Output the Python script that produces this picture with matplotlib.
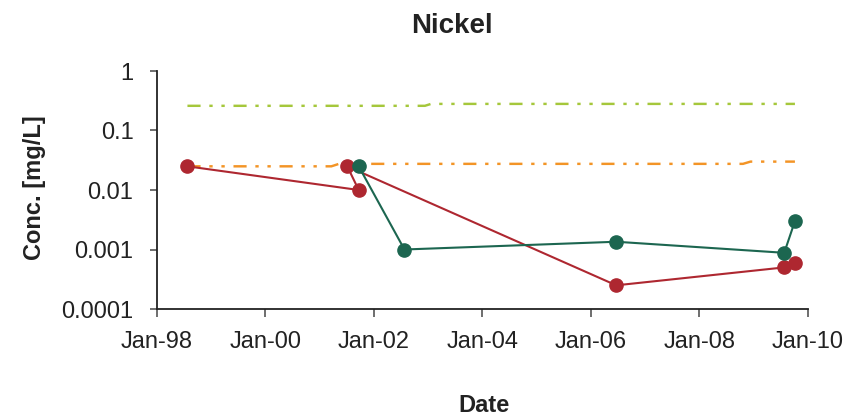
import matplotlib
matplotlib.use("Agg")
import matplotlib.pyplot as plt
import matplotlib.dates as mdates
from matplotlib.ticker import FixedLocator, FixedFormatter
import pandas as pd

plt.rcParams['font.family'] = ['Liberation Sans', 'DejaVu Sans']

# Sample series (concentration in mg/L)
red_dates = ["1998-07-25", "2001-09-20", "2001-07-05", "2006-06-20", "2009-07-25", "2009-10-05"]
red_values = [0.025, 0.010, 0.025, 0.00025, 0.0005, 0.0006]

green_dates = ["2001-09-20", "2002-07-25", "2006-06-20", "2009-07-25", "2009-10-05"]
green_values = [0.025, 0.001, 0.00135, 0.00088, 0.0030]

# Guideline levels
lime_dates = ["1998-07-25", "2002-12-10", "2003-01-20", "2009-10-05"]
lime_values = [0.26, 0.26, 0.28, 0.28]

orange_dates = ["1998-07-25", "2001-03-20", "2001-05-10", "2008-10-20", "2008-12-10", "2009-10-05"]
orange_values = [0.025, 0.025, 0.0275, 0.0275, 0.030, 0.030]

x_ticks = ["1998-01-01", "2000-01-01", "2002-01-01", "2004-01-01",
           "2006-01-01", "2008-01-01", "2010-01-01"]
y_ticks = [0.0001, 0.001, 0.01, 0.1, 1]
y_tick_labels = ["0.0001", "0.001", "0.01", "0.1", "1"]

RED = "#AE2730"
GREEN = "#1C6650"
LIME = "#A5C73B"
ORANGE = "#F39426"

fig = plt.figure(figsize=(8.49, 4.19), dpi=100)
ax = fig.add_axes([157 / 849, 1 - 309 / 419, (808 - 157) / 849, (309 - 71) / 419])

lw_guide = 1.75
dash = (5.4, 3.6, 1.37, 3.6, 1.37, 3.6)
ax.plot(pd.to_datetime(lime_dates), lime_values, color=LIME, lw=lw_guide,
        dashes=dash, zorder=2)
ax.plot(pd.to_datetime(orange_dates), orange_values, color=ORANGE, lw=lw_guide,
        dashes=dash, zorder=2)

ax.plot(pd.to_datetime(red_dates), red_values, color=RED, lw=1.5,
        marker="o", markersize=9.5, zorder=3)
ax.plot(pd.to_datetime(green_dates), green_values, color=GREEN, lw=1.5,
        marker="o", markersize=9.5, zorder=3)

ax.set_yscale("log")
ax.set_ylim(0.0001, 1)
ax.yaxis.set_major_locator(FixedLocator(y_ticks))
ax.yaxis.set_major_formatter(FixedFormatter(y_tick_labels))
ax.yaxis.set_minor_locator(FixedLocator([]))

xt = mdates.date2num(pd.to_datetime(x_ticks))
ax.set_xlim(xt[0], xt[-1])
ax.xaxis.set_major_locator(FixedLocator(xt))
ax.xaxis.set_major_formatter(mdates.DateFormatter("%b-%y"))

for s in ["top", "right"]:
    ax.spines[s].set_visible(False)
for s in ["left", "bottom"]:
    ax.spines[s].set_color("#222222")
    ax.spines[s].set_linewidth(1.3)

ax.tick_params(axis="y", direction="out", length=5, width=1.2, color="#555555",
               labelsize=17, pad=12, labelcolor="#222222")
ax.tick_params(axis="x", direction="out", length=6, width=1.2, color="#555555",
               labelsize=17, pad=10, labelcolor="#222222")

fig.text(452 / 849, 1 - 26 / 419, "Nickel", ha="center", va="center",
         fontsize=20, fontweight="bold", color="#222222")
fig.text(484 / 849, 1 - 405 / 419, "Date", ha="center", va="center",
         fontsize=17, fontweight="bold", color="#222222")
fig.text(35 / 849, 1 - 188 / 419, "Conc. [mg/L]", ha="center", va="center",
         rotation=90, fontsize=17, fontweight="bold", color="#222222")

fig.savefig("out.png", dpi=100)
